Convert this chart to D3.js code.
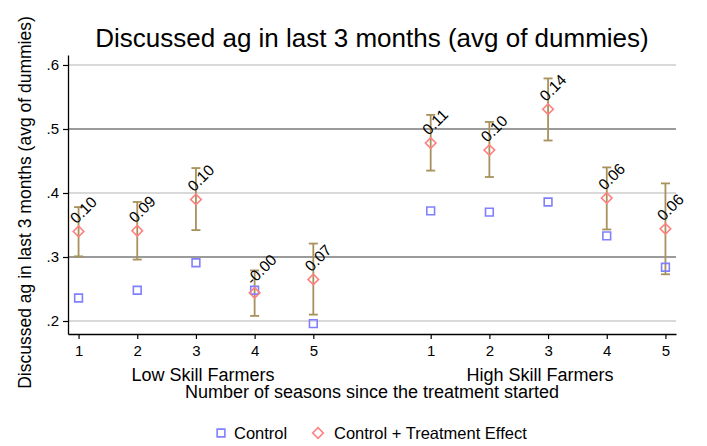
<!DOCTYPE html>
<html>
<head>
<meta charset="utf-8">
<script src="https://cdn.jsdelivr.net/npm/d3@7"></script>
<style>
  body { margin: 0; background: #fff; }
  svg { font-family: "Liberation Sans", Arial, Helvetica, sans-serif; }
</style>
</head>
<body>
<div id="chart"></div>
<script>
// seasons 1-5 for each group, high skill group shifted right by one slot
const groups = ['Low Skill Farmers', 'High Skill Farmers'];
const xPositions = [1, 2, 3, 4, 5, 7, 8, 9, 10, 11];
const xTickLabels = ['1', '2', '3', '4', '5', '1', '2', '3', '4', '5'];
const controlMeans = [0.236, 0.248, 0.291, 0.248, 0.196, 0.372, 0.370, 0.386, 0.333, 0.284];
const treatedMeans = [0.340, 0.341, 0.390, 0.244, 0.265, 0.478, 0.467, 0.531, 0.392, 0.344];
const ciLower = [0.301, 0.296, 0.342, 0.208, 0.210, 0.435, 0.425, 0.482, 0.343, 0.273];
const ciUpper = [0.378, 0.386, 0.439, 0.279, 0.321, 0.522, 0.511, 0.579, 0.440, 0.415];
const effectLabels = ['0.10', '0.09', '0.10', '-0.00', '0.07', '0.11', '0.10', '0.14', '0.06', '0.06'];
const yTicks = [0.2, 0.3, 0.4, 0.5, 0.6];
const darkGridTicks = [0.3, 0.5];

const w = 707,
      h = 446;
const plot = {left: 68, right: 676, top: 55, bottom: 334};

const points = xPositions.map((x, i) => ({
  x: x,
  control: controlMeans[i],
  treated: treatedMeans[i],
  lo: ciLower[i],
  hi: ciUpper[i],
  label: effectLabels[i]
}));

const xScale = d3.scaleLinear().domain([0.82, 11.18]).range([plot.left, plot.right]);
const yScale = d3.scaleLinear().domain([0.1797, 0.6156]).range([plot.bottom, plot.top]);

const svg = d3.select('#chart').append('svg')
  .attr('width', w)
  .attr('height', h);

/* Title */
svg.append('text')
  .attr('x', (plot.left + plot.right) / 2)
  .attr('y', 47)
  .attr('text-anchor', 'middle')
  .style('font-size', '26px')
  .text('Discussed ag in last 3 months (avg of dummies)');

/* Grid */
svg.append('g').selectAll('line')
  .data(yTicks).enter()
  .append('line')
  .attr('x1', plot.left)
  .attr('x2', plot.right)
  .attr('y1', d => yScale(d))
  .attr('y2', d => yScale(d))
  .style('stroke', d => darkGridTicks.includes(d) ? '#7a7a7a' : '#cdcdcd')
  .style('stroke-width', 1.3);

/* Axes */
const yAxis = d3.axisLeft(yScale)
  .tickValues(yTicks)
  .tickSize(5)
  .tickPadding(4)
  .tickSizeOuter(0)
  .tickFormat(d => d3.format('.1f')(d).replace(/^0/, ''));
const xAxis = d3.axisBottom(xScale)
  .tickValues(xPositions)
  .tickSize(5)
  .tickPadding(6)
  .tickSizeOuter(0)
  .tickFormat((d, i) => xTickLabels[i]);

const gy = svg.append('g').attr('transform', `translate(${plot.left}, 0)`).call(yAxis);
const gx = svg.append('g').attr('transform', `translate(0, ${plot.bottom})`).call(xAxis);
[gx, gy].forEach(g => {
  g.select('.domain').style('stroke', '#000').style('stroke-width', 1.3);
  g.selectAll('.tick line').style('stroke', '#000').style('stroke-width', 1.2);
  g.selectAll('.tick text')
    .style('font-family', '"Liberation Sans", Arial, sans-serif')
    .style('font-size', '15px')
    .style('fill', '#000');
});

/* Group labels and axis titles */
svg.append('g').selectAll('text')
  .data(groups).enter()
  .append('text')
  .attr('x', (d, i) => xScale(i === 0 ? 3 : 9) + (i === 0 ? 7 : -8))
  .attr('y', 381)
  .attr('text-anchor', 'middle')
  .style('font-size', '18px')
  .text(d => d);

svg.append('text')
  .attr('x', (plot.left + plot.right) / 2)
  .attr('y', 398)
  .attr('text-anchor', 'middle')
  .style('font-size', '18px')
  .text('Number of seasons since the treatment started');

svg.append('text')
  .attr('transform', `translate(31, ${(plot.top + plot.bottom) / 2 + 8}) rotate(-90)`)
  .attr('text-anchor', 'middle')
  .style('font-size', '17.5px')
  .text('Discussed ag in last 3 months (avg of dummies)');

/* Confidence intervals */
const ci = svg.append('g').style('stroke', '#a8915a').style('stroke-width', 1.8);
ci.selectAll('.bar').data(points).enter()
  .append('line')
  .attr('x1', d => xScale(d.x))
  .attr('x2', d => xScale(d.x))
  .attr('y1', d => yScale(d.lo))
  .attr('y2', d => yScale(d.hi));
ci.selectAll('.capTop').data(points).enter()
  .append('line')
  .attr('x1', d => xScale(d.x) - 4.5)
  .attr('x2', d => xScale(d.x) + 4.5)
  .attr('y1', d => yScale(d.hi))
  .attr('y2', d => yScale(d.hi));
ci.selectAll('.capBottom').data(points).enter()
  .append('line')
  .attr('x1', d => xScale(d.x) - 4.5)
  .attr('x2', d => xScale(d.x) + 4.5)
  .attr('y1', d => yScale(d.lo))
  .attr('y2', d => yScale(d.lo));

/* Markers */
const square = d3.symbol().type(d3.symbolSquare).size(60);
const diamond = d3.symbol().type(d3.symbolSquare).size(56);

svg.append('g').selectAll('path')
  .data(points).enter()
  .append('path')
  .attr('d', square)
  .attr('transform', d => `translate(${xScale(d.x)}, ${yScale(d.control)})`)
  .style('fill', 'none')
  .style('stroke', '#8080ff')
  .style('stroke-width', 1.6);

svg.append('g').selectAll('path')
  .data(points).enter()
  .append('path')
  .attr('d', diamond)
  .attr('transform', d => `translate(${xScale(d.x)}, ${yScale(d.treated)}) rotate(45)`)
  .style('fill', 'none')
  .style('stroke', '#ff8080')
  .style('stroke-width', 1.6);

/* Effect labels */
svg.append('g').selectAll('text')
  .data(points).enter()
  .append('text')
  .attr('transform', d => `translate(${xScale(d.x) - 2}, ${yScale(d.treated) - 7}) rotate(-45)`)
  .style('font-size', '15.5px')
  .text(d => d.label);

/* Legend */
const legend = svg.append('g').attr('transform', 'translate(0, 433)');
legend.append('path')
  .attr('d', square)
  .attr('transform', 'translate(221, 0)')
  .style('fill', 'none')
  .style('stroke', '#8080ff')
  .style('stroke-width', 1.6);
legend.append('text')
  .attr('x', 234)
  .attr('y', 6)
  .style('font-size', '16.5px')
  .text('Control');
legend.append('path')
  .attr('d', diamond)
  .attr('transform', 'translate(318, 0) rotate(45)')
  .style('fill', 'none')
  .style('stroke', '#ff8080')
  .style('stroke-width', 1.6);
legend.append('text')
  .attr('x', 334)
  .attr('y', 6)
  .style('font-size', '16.5px')
  .text('Control + Treatment Effect');
</script>
</body>
</html>
